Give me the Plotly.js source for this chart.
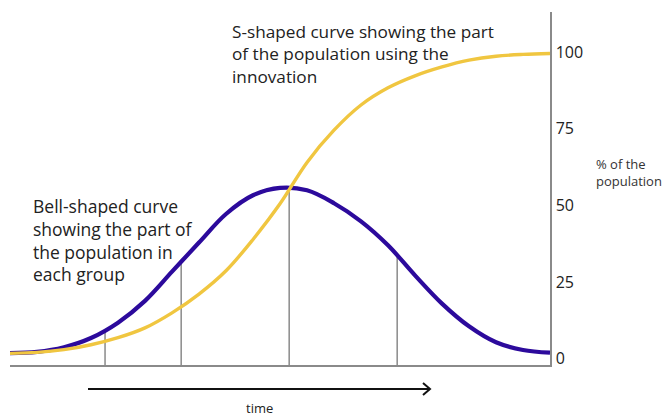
<!DOCTYPE html>
<html>
<head>
<meta charset="utf-8">
<script src="https://cdn.plot.ly/plotly-3.0.1.min.js"></script>
<style>html,body{margin:0;padding:0;background:#fff;}#chart{width:663px;height:417px;}</style>
</head>
<body>
<div id="chart"></div>
<script>
// Time axis (arbitrary units, 0 = start, 100 = end)
var timePoints = [0, 5, 10, 15, 20, 25, 30, 35, 40, 45, 50, 55, 60, 65, 70, 75, 80, 85, 90, 95, 100];

// Bell-shaped curve: share of population in each adopter group (%)
var bellValues = [1.9, 2.3, 3.8, 6.8, 11.8, 18.9, 28.4, 37.9, 47.2, 53.3, 55.7, 54.9, 50.7, 44.8, 37.0, 27.2, 18.0, 10.6, 5.4, 2.9, 2.0];

// S-shaped curve: cumulative share of population using the innovation (%)
var sValues = [1.8, 2.1, 3.0, 4.6, 6.9, 10.1, 15.0, 21.1, 28.7, 38.9, 50.5, 64.0, 74.5, 82.7, 88.3, 92.2, 95.1, 97.3, 98.6, 99.2, 99.5];

// Group dividers (vertical lines from the axis up to the bell curve)
var dividerTimes = [17.6, 31.7, 51.7, 71.7];
var dividerValues = [8.9, 31.5, 55.6, 33.8];

var yTicks = [0, 25, 50, 75, 100];
var yMin = -2, yMax = 113;

var traces = [];
dividerTimes.forEach(function (t, i) {
  traces.push({
    x: [t, t], y: [yMin, dividerValues[i]], mode: 'lines',
    line: {color: '#8a8a8a', width: 1.5}, hoverinfo: 'skip', showlegend: false
  });
});
traces.push({
  x: timePoints, y: bellValues, mode: 'lines', name: 'groups',
  line: {color: '#2c0a9c', width: 4.2, shape: 'spline', smoothing: 1}, showlegend: false
});
traces.push({
  x: timePoints, y: sValues, mode: 'lines', name: 'using',
  line: {color: '#f0c640', width: 3.4, shape: 'spline', smoothing: 1}, showlegend: false
});

var fam = 'Open Sans, sans-serif';

var layout = {
  width: 663, height: 417,
  margin: {l: 10, r: 113, t: 12, b: 52, pad: 0},
  paper_bgcolor: '#fff', plot_bgcolor: '#fff',
  showlegend: false,
  xaxis: {
    range: [0, 100], showgrid: false, zeroline: false, showticklabels: false,
    ticks: '', showline: true, linecolor: '#8a8a8a', linewidth: 1.5, fixedrange: true
  },
  yaxis: {
    range: [yMin, yMax], side: 'right', showgrid: false, zeroline: false,
    tickvals: yTicks, ticktext: yTicks.map(String), ticks: '',
    tickfont: {family: fam, size: 16, color: '#222'},
    ticklabelstandoff: 1,
    showline: true, linecolor: '#8a8a8a', linewidth: 1.5, fixedrange: true
  },
  annotations: [
    {xref: 'paper', yref: 'paper', x: (230 - 10) / 540, y: (365 - 18) / 353,
     xanchor: 'left', yanchor: 'top', align: 'left', showarrow: false,
     text: 'S-shaped curve showing the part<br>of the population using the<br>innovation',
     font: {family: fam, size: 17.2, color: '#222'}},
    {xref: 'paper', yref: 'paper', x: (31 - 10) / 540, y: (365 - 192) / 353,
     xanchor: 'left', yanchor: 'top', align: 'left', showarrow: false,
     text: 'Bell-shaped curve<br>showing the part of<br>the population in<br>each group',
     font: {family: fam, size: 17.5, color: '#222'}},
    {xref: 'paper', yref: 'paper', x: (594 - 10) / 540, y: (365 - 153) / 353,
     xanchor: 'left', yanchor: 'top', align: 'left', showarrow: false,
     text: '% of the<br>population', font: {family: fam, size: 13, color: '#333'}},
    {xref: 'paper', yref: 'paper', x: (259 - 10) / 540, y: (365 - 408) / 353,
     xanchor: 'center', yanchor: 'middle', showarrow: false,
     text: 'time', font: {family: fam, size: 13, color: '#222'}}
  ],
  shapes: [
    {type: 'line', xref: 'paper', yref: 'paper',
     x0: (88 - 10) / 540, x1: (429 - 10) / 540, y0: (365 - 389) / 353, y1: (365 - 389) / 353,
     line: {color: '#111', width: 2}},
    {type: 'path', xref: 'paper', yref: 'paper',
     path: 'M ' + (423 - 10) / 540 + ' ' + (365 - 383) / 353 + ' L ' + (430 - 10) / 540 + ' ' + (365 - 389) / 353 +
           ' L ' + (423 - 10) / 540 + ' ' + (365 - 395) / 353,
     line: {color: '#111', width: 2}}
  ]
};

Plotly.newPlot('chart', traces, layout, {displayModeBar: false, staticPlot: true});
</script>
</body>
</html>
